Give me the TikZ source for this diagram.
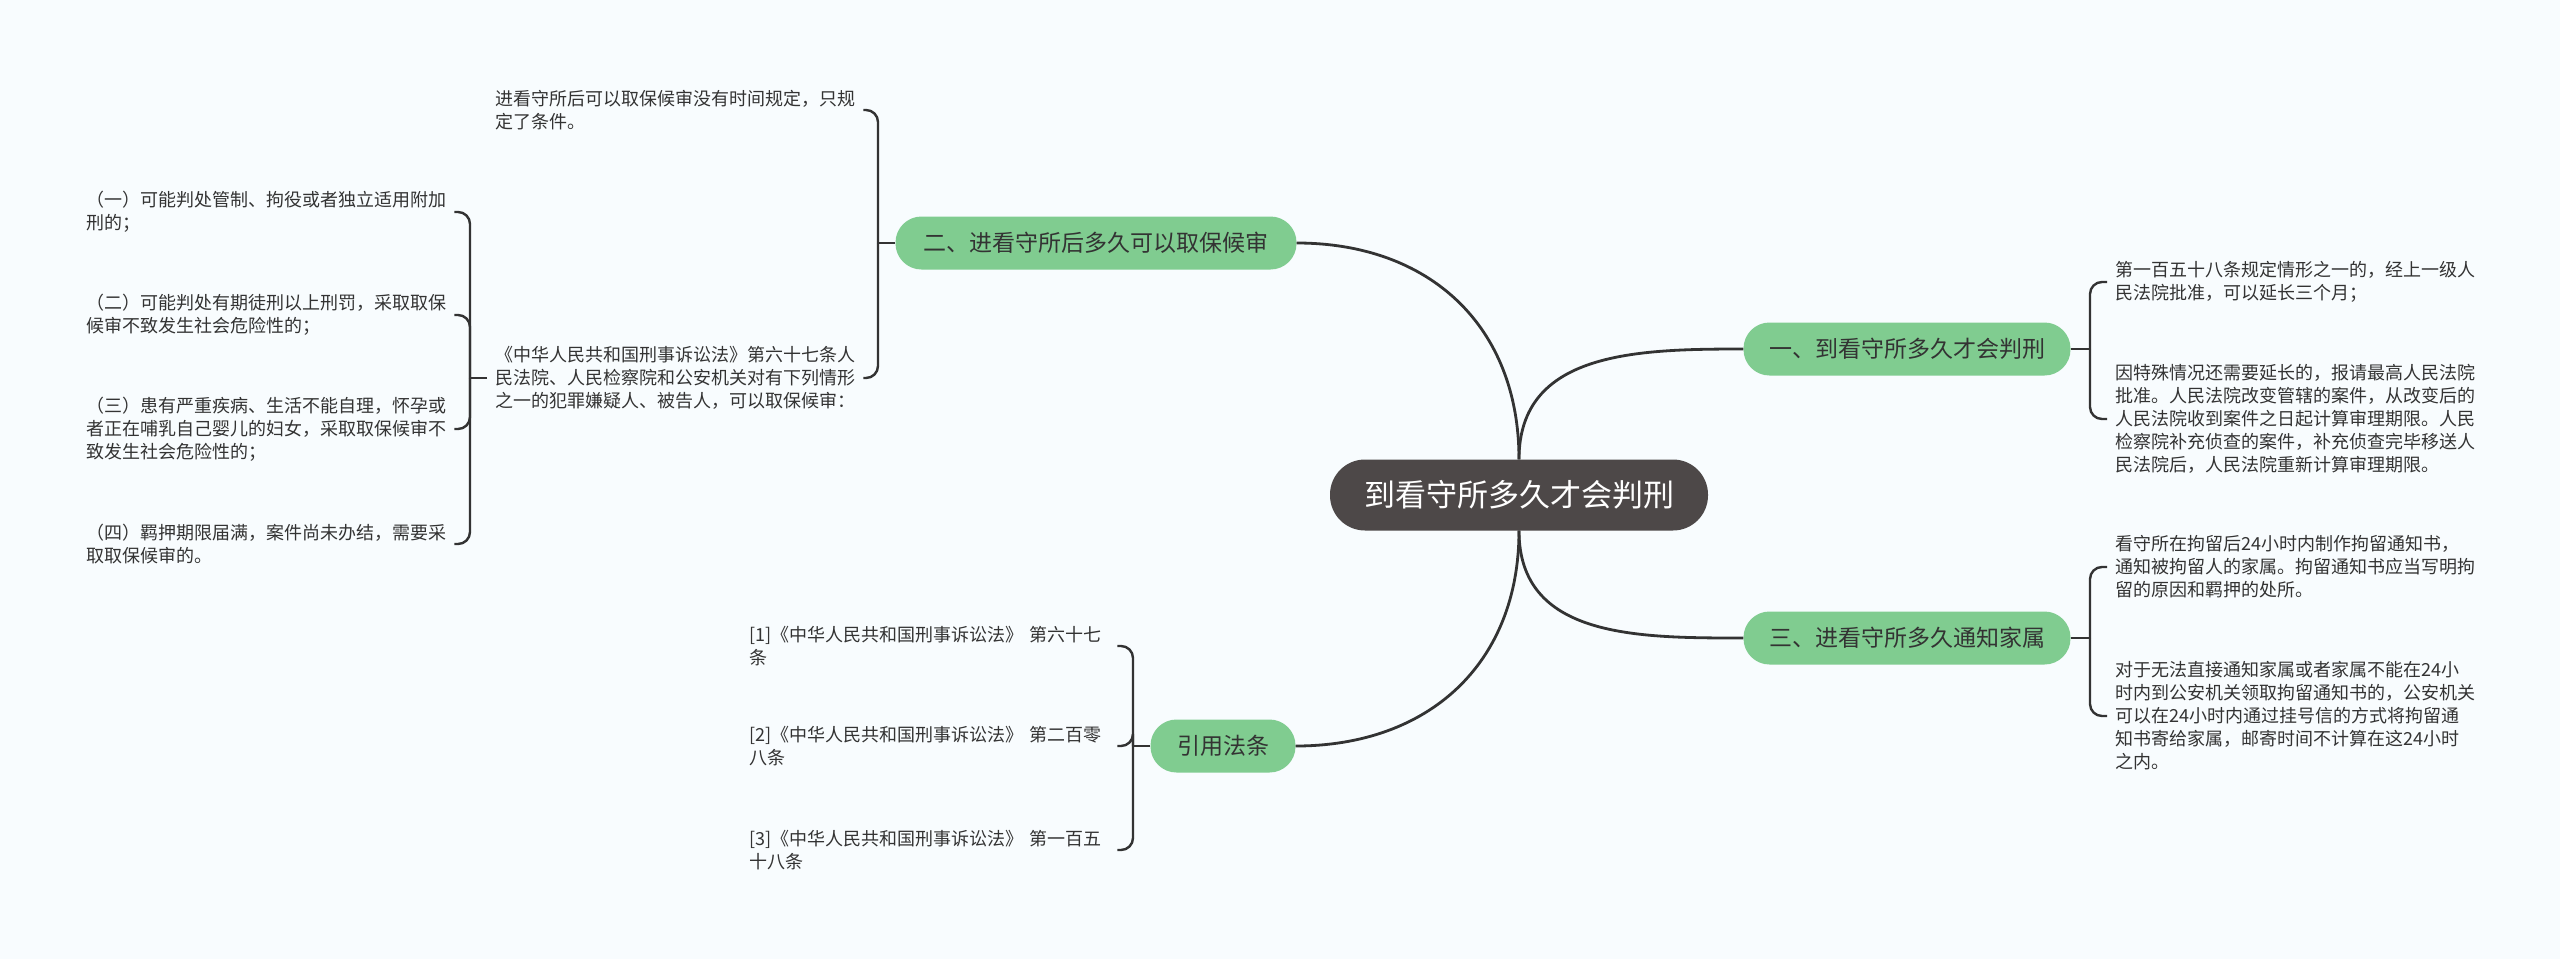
\documentclass[tikz,border=0pt]{standalone}
\usepackage{fontspec}
\setmainfont{Noto Sans CJK SC}
\definecolor{bg}{HTML}{F8FCFE}
\definecolor{rootfill}{HTML}{4D4848}
\definecolor{branchgreen}{HTML}{80CC90}
\definecolor{linec}{HTML}{333333}
\definecolor{txt}{HTML}{333333}
\begin{document}
\begin{tikzpicture}[x=1pt,y=-1pt,
  rootbox/.style={fill=rootfill, text=white, rounded corners=35pt, minimum width=378pt, minimum height=71pt, font=\fontsize{31}{36}\selectfont, inner sep=0pt},
  branchbox/.style={fill=branchgreen, text=txt, rounded corners=26pt, minimum height=53pt, font=\fontsize{23}{28}\selectfont, inner sep=0pt},
  leaf/.style={text=txt, font=\fontsize{18}{23}\selectfont, align=left, text width=360pt, inner ysep=0pt, inner xsep=8pt},
  link/.style={draw=linec, line width=2.8pt},
  brk/.style={draw=linec, line width=2.4pt, rounded corners=12pt},
]
\path[fill=bg] (0,0) rectangle (2560,959);

% main nodes
\node[rootbox] (root) at (1519,495) {到看守所多久才会判刑};
\node[branchbox, minimum width=327pt] (b1) at (1907,349) {一、到看守所多久才会判刑};
\node[branchbox, minimum width=327pt] (b3) at (1907,638) {三、进看守所多久通知家属};
\node[branchbox, minimum width=401pt] (b2) at (1096,243) {二、进看守所后多久可以取保候审};
\node[branchbox, minimum width=145pt] (cite) at (1223,746) {引用法条};

% right leaves
\node[leaf, anchor=west] (r1) at (2107,282) {第一百五十八条规定情形之一的，经上一级人\\民法院批准，可以延长三个月；};
\node[leaf, anchor=west] (r2) at (2107,419) {因特殊情况还需要延长的，报请最高人民法院\\批准。人民法院改变管辖的案件，从改变后的\\人民法院收到案件之日起计算审理期限。人民\\检察院补充侦查的案件，补充侦查完毕移送人\\民法院后，人民法院重新计算审理期限。};
\node[leaf, anchor=west] (r3) at (2107,567) {看守所在拘留后24小时内制作拘留通知书，\\通知被拘留人的家属。拘留通知书应当写明拘\\留的原因和羁押的处所。};
\node[leaf, anchor=west] (r4) at (2107,716) {对于无法直接通知家属或者家属不能在24小\\时内到公安机关领取拘留通知书的，公安机关\\可以在24小时内通过挂号信的方式将拘留通\\知书寄给家属，邮寄时间不计算在这24小时\\之内。};

% left leaves of branch 2
\node[leaf, anchor=west] (ltop) at (487,110) {进看守所后可以取保候审没有时间规定，只规\\定了条件。};
\node[leaf, anchor=west] (lzh) at (487,378) {《中华人民共和国刑事诉讼法》第六十七条人\\民法院、人民检察院和公安机关对有下列情形\\之一的犯罪嫌疑人、被告人，可以取保候审：};

% children of lzh
\node[leaf, anchor=west] (l1) at (78,212) {（一）可能判处管制、拘役或者独立适用附加\\刑的；};
\node[leaf, anchor=west] (l2) at (78,315) {（二）可能判处有期徒刑以上刑罚，采取取保\\候审不致发生社会危险性的；};
\node[leaf, anchor=west] (l3) at (78,429) {（三）患有严重疾病、生活不能自理，怀孕或\\者正在哺乳自己婴儿的妇女，采取取保候审不\\致发生社会危险性的；};
\node[leaf, anchor=west] (l4) at (78,544) {（四）羁押期限届满，案件尚未办结，需要采\\取取保候审的。};

% citations
\node[leaf, anchor=west] (c1) at (741,646) {[1]《中华人民共和国刑事诉讼法》 第六十七\\条};
\node[leaf, anchor=west] (c2) at (741,746) {[2]《中华人民共和国刑事诉讼法》 第二百零\\八条};
\node[leaf, anchor=west] (c3) at (741,850) {[3]《中华人民共和国刑事诉讼法》 第一百五\\十八条};

% main connectors
\draw[link] (root.north) to[out=90,in=0,looseness=1.1] (b2.east);
\draw[link] (root.north) to[out=90,in=180,looseness=1.1] (b1.west);
\draw[link] (root.south) to[out=-90,in=180,looseness=1.1] (b3.west);
\draw[link] (root.south) to[out=-90,in=0,looseness=1.1] (cite.east);

% bracket junctions
\coordinate (j1) at (2090,349);
\coordinate (j3) at (2090,638);
\coordinate (j2) at (878,243);
\coordinate (j4) at (470,378);
\coordinate (j5) at (1133,746);

\draw[brk] (b1.east) -- (j1);
\draw[brk] (j1) |- (r1.west);
\draw[brk] (j1) |- (r2.west);

\draw[brk] (b3.east) -- (j3);
\draw[brk] (j3) |- (r3.west);
\draw[brk] (j3) |- (r4.west);

\draw[brk] (b2.west) -- (j2);
\draw[brk] (j2) |- (ltop.east);
\draw[brk] (j2) |- (lzh.east);

\draw[brk] (lzh.west) -- (j4);
\draw[brk] (j4) |- (l1.east);
\draw[brk] (j4) |- (l2.east);
\draw[brk] (j4) |- (l3.east);
\draw[brk] (j4) |- (l4.east);

\draw[brk] (cite.west) -- (j5);
\draw[brk] (j5) |- (c1.east);
\draw[brk] (j5) |- (c2.east);
\draw[brk] (j5) |- (c3.east);
\end{tikzpicture}
\end{document}
